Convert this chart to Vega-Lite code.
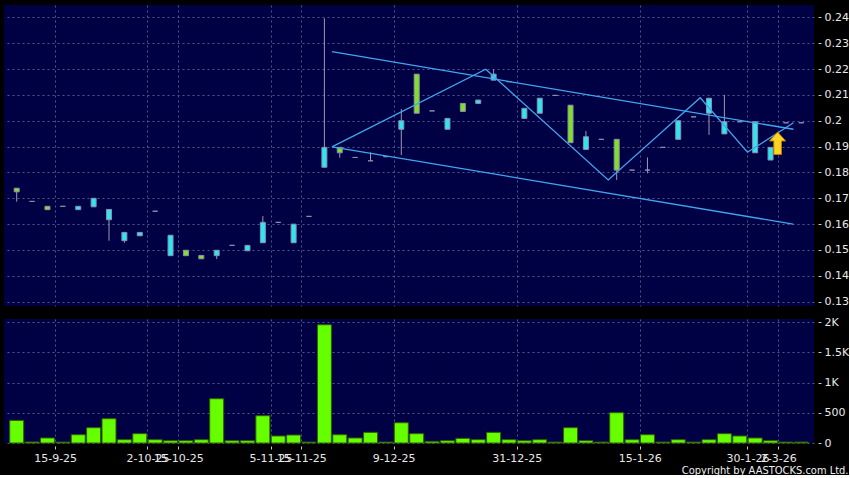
{
  "$schema": "https://vega.github.io/schema/vega-lite/v6.json",
  "background": "#000000",
  "padding": {"left": 4, "top": 5, "right": 0, "bottom": 0},
  "spacing": 9,
  "config": {
    "view": {"fill": "#000044", "stroke": null},
    "axis": {
      "gridColor": "#55558c", "gridDash": [2, 3], "gridWidth": 1, "gridOpacity": 1,
      "labelColor": "#e8e8e8", "labelFont": "DejaVu Sans", "labelFontSize": 11,
      "tickColor": "#c8c8c8", "domain": false
    }
  },
  "datasets": {
    "candles": [
      {"i": 0, "o": 0.1739, "c": 0.1725, "h": 0.1739, "l": 0.1687, "vol": 374},
      {"i": 1, "o": 0.1688, "c": 0.1688, "h": 0.1688, "l": 0.1688, "vol": 17},
      {"i": 2, "o": 0.1669, "c": 0.1656, "h": 0.1669, "l": 0.1656, "vol": 83},
      {"i": 3, "o": 0.1669, "c": 0.1669, "h": 0.1669, "l": 0.1669, "vol": 15},
      {"i": 4, "o": 0.1656, "c": 0.1669, "h": 0.1669, "l": 0.1656, "vol": 137},
      {"i": 5, "o": 0.1667, "c": 0.17, "h": 0.17, "l": 0.1667, "vol": 253},
      {"i": 6, "o": 0.1617, "c": 0.1657, "h": 0.1657, "l": 0.1536, "vol": 402},
      {"i": 7, "o": 0.1536, "c": 0.1568, "h": 0.1568, "l": 0.1528, "vol": 55},
      {"i": 8, "o": 0.1555, "c": 0.1568, "h": 0.1568, "l": 0.1555, "vol": 154},
      {"i": 9, "o": 0.165, "c": 0.165, "h": 0.165, "l": 0.165, "vol": 55},
      {"i": 10, "o": 0.1478, "c": 0.1557, "h": 0.1557, "l": 0.1478, "vol": 38},
      {"i": 11, "o": 0.1499, "c": 0.1478, "h": 0.1499, "l": 0.1478, "vol": 38},
      {"i": 12, "o": 0.1479, "c": 0.1466, "h": 0.1479, "l": 0.1466, "vol": 55},
      {"i": 13, "o": 0.1478, "c": 0.1499, "h": 0.1499, "l": 0.1465, "vol": 732},
      {"i": 14, "o": 0.1518, "c": 0.1518, "h": 0.1518, "l": 0.1518, "vol": 38},
      {"i": 15, "o": 0.1497, "c": 0.1518, "h": 0.1518, "l": 0.1497, "vol": 38},
      {"i": 16, "o": 0.1528, "c": 0.1607, "h": 0.1631, "l": 0.1528, "vol": 451},
      {"i": 17, "o": 0.1607, "c": 0.1607, "h": 0.1607, "l": 0.1607, "vol": 116},
      {"i": 18, "o": 0.1528, "c": 0.16, "h": 0.16, "l": 0.1528, "vol": 132},
      {"i": 19, "o": 0.163, "c": 0.163, "h": 0.163, "l": 0.163, "vol": 15},
      {"i": 20, "o": 0.182, "c": 0.1897, "h": 0.2396, "l": 0.182, "vol": 1955},
      {"i": 21, "o": 0.1897, "c": 0.1876, "h": 0.1897, "l": 0.1857, "vol": 137},
      {"i": 22, "o": 0.1858, "c": 0.1858, "h": 0.1858, "l": 0.1858, "vol": 83},
      {"i": 23, "o": 0.1845, "c": 0.1845, "h": 0.1878, "l": 0.1845, "vol": 176},
      {"i": 24, "o": 0.1861, "c": 0.1861, "h": 0.1861, "l": 0.1861, "vol": 15},
      {"i": 25, "o": 0.1967, "c": 0.2, "h": 0.2045, "l": 0.1867, "vol": 335},
      {"i": 26, "o": 0.218, "c": 0.2029, "h": 0.218, "l": 0.2029, "vol": 154},
      {"i": 27, "o": 0.2038, "c": 0.2038, "h": 0.2038, "l": 0.2038, "vol": 27},
      {"i": 28, "o": 0.1967, "c": 0.2009, "h": 0.2009, "l": 0.1967, "vol": 38},
      {"i": 29, "o": 0.2067, "c": 0.2036, "h": 0.2067, "l": 0.2036, "vol": 77},
      {"i": 30, "o": 0.2067, "c": 0.208, "h": 0.208, "l": 0.2067, "vol": 55},
      {"i": 31, "o": 0.2157, "c": 0.218, "h": 0.2199, "l": 0.2157, "vol": 176},
      {"i": 32, "o": 0.2151, "c": 0.2151, "h": 0.2151, "l": 0.2151, "vol": 55},
      {"i": 33, "o": 0.2009, "c": 0.2048, "h": 0.2048, "l": 0.2009, "vol": 38},
      {"i": 34, "o": 0.2029, "c": 0.2087, "h": 0.2087, "l": 0.2029, "vol": 55},
      {"i": 35, "o": 0.2098, "c": 0.2098, "h": 0.2098, "l": 0.2098, "vol": 15},
      {"i": 36, "o": 0.206, "c": 0.1915, "h": 0.206, "l": 0.1915, "vol": 253},
      {"i": 37, "o": 0.1889, "c": 0.1938, "h": 0.196, "l": 0.1889, "vol": 38},
      {"i": 38, "o": 0.1928, "c": 0.1928, "h": 0.1928, "l": 0.1928, "vol": 15},
      {"i": 39, "o": 0.1928, "c": 0.1809, "h": 0.1928, "l": 0.1771, "vol": 501},
      {"i": 40, "o": 0.1809, "c": 0.1809, "h": 0.1809, "l": 0.1809, "vol": 55},
      {"i": 41, "o": 0.1809, "c": 0.1809, "h": 0.1858, "l": 0.1797, "vol": 137},
      {"i": 42, "o": 0.1897, "c": 0.1897, "h": 0.1897, "l": 0.1897, "vol": 15},
      {"i": 43, "o": 0.1928, "c": 0.2, "h": 0.2, "l": 0.1928, "vol": 55},
      {"i": 44, "o": 0.2015, "c": 0.2015, "h": 0.2015, "l": 0.2015, "vol": 15},
      {"i": 45, "o": 0.2029, "c": 0.2087, "h": 0.2087, "l": 0.1945, "vol": 55},
      {"i": 46, "o": 0.1949, "c": 0.1996, "h": 0.21, "l": 0.1949, "vol": 154},
      {"i": 47, "o": 0.1996, "c": 0.1996, "h": 0.1996, "l": 0.1996, "vol": 116},
      {"i": 48, "o": 0.1876, "c": 0.1996, "h": 0.1996, "l": 0.1876, "vol": 83},
      {"i": 49, "o": 0.1848, "c": 0.1897, "h": 0.1897, "l": 0.1848, "vol": 38},
      {"i": 50, "o": 0.1992, "c": 0.1992, "h": 0.1992, "l": 0.1992, "vol": 15},
      {"i": 51, "o": 0.1992, "c": 0.1992, "h": 0.1992, "l": 0.1992, "vol": 15}
    ],
    "lines": [
      {"g": "upper", "i": 20.49, "v": 0.2267},
      {"g": "upper", "i": 50.49, "v": 0.1967},
      {"g": "lower", "i": 20.49, "v": 0.1899},
      {"g": "lower", "i": 50.47, "v": 0.16},
      {"g": "zigzag", "i": 20.49, "v": 0.1899},
      {"g": "zigzag", "i": 30.49, "v": 0.2199},
      {"g": "zigzag", "i": 38.45, "v": 0.1771},
      {"g": "zigzag", "i": 44.43, "v": 0.2089},
      {"g": "zigzag", "i": 47.5, "v": 0.1878},
      {"g": "zigzag", "i": 50.49, "v": 0.1992}
    ],
    "arrow": [{"i": 49.46, "v": 0.1913}]
  },
  "vconcat": [
    {
      "width": 810,
      "height": 301,
      "encoding": {
        "x": {
          "type": "quantitative",
          "scale": {"domain": [-0.5, 51.5], "nice": false, "zero": false},
          "axis": {
            "values": [2.5, 8.5, 10.5, 16.5, 18.5, 24.5, 32.5, 40.5, 47.5, 49.5],
            "grid": true, "labels": false, "ticks": false, "title": null
          }
        },
        "y": {
          "type": "quantitative",
          "scale": {"domain": [0.12834, 0.24476], "nice": false, "zero": false},
          "axis": {
            "orient": "right",
            "values": [0.13, 0.14, 0.15, 0.16, 0.17, 0.18, 0.19, 0.2, 0.21, 0.22, 0.23, 0.24],
            "format": ".2~f",
            "grid": true, "offset": 4, "tickSize": 3, "labelPadding": 3,
            "title": null, "labelFlush": false, "labelOverlap": false
          }
        }
      },
      "layer": [
        {
          "data": {"name": "candles"},
          "mark": {"type": "rule", "color": "#9a9ab8", "strokeWidth": 1},
          "encoding": {
            "x": {"field": "i"},
            "y": {"field": "l"},
            "y2": {"field": "h"}
          }
        },
        {
          "data": {"name": "candles"},
          "mark": {"type": "bar", "width": 5, "stroke": "#8e8eac", "strokeWidth": 1},
          "encoding": {
            "x": {"field": "i"},
            "y": {"field": "o"},
            "y2": {"field": "c"},
            "fill": {
              "condition": [
                {"test": "datum.c > datum.o", "value": "#2ee6f2"},
                {"test": "datum.c < datum.o", "value": "#80e028"}
              ],
              "value": "#9a9ab8"
            }
          }
        },
        {
          "data": {"name": "lines"},
          "mark": {"type": "line", "color": "#42a6ee", "strokeWidth": 1.3},
          "encoding": {
            "x": {"field": "i"},
            "y": {"field": "v"},
            "detail": {"field": "g"}
          }
        },
        {
          "data": {"name": "arrow"},
          "mark": {
            "type": "point",
            "shape": "M0,-1L0.72,-0.2L0.34,-0.2L0.34,1L-0.34,1L-0.34,-0.2L-0.72,-0.2Z",
            "size": 500,
            "filled": true,
            "fill": "#ffd424",
            "stroke": "#c08000",
            "strokeWidth": 1,
            "opacity": 1
          },
          "encoding": {
            "x": {"field": "i"},
            "y": {"field": "v"}
          }
        }
      ]
    },
    {
      "width": 810,
      "height": 124,
      "data": {"name": "candles"},
      "mark": {"type": "bar", "width": 14, "fill": "#66ff00", "stroke": "#2f5f00", "strokeWidth": 1},
      "encoding": {
        "x": {
          "field": "i",
          "type": "quantitative",
          "scale": {"domain": [-0.5, 51.5], "nice": false, "zero": false},
          "axis": {
            "values": [2.5, 8.5, 10.5, 16.5, 18.5, 24.5, 32.5, 40.5, 47.5, 49.5],
            "labelExpr": "datum.value == 2.5 ? '15-9-25' : datum.value == 8.5 ? '2-10-25' : datum.value == 10.5 ? '15-10-25' : datum.value == 16.5 ? '5-11-25' : datum.value == 18.5 ? '15-11-25' : datum.value == 24.5 ? '9-12-25' : datum.value == 32.5 ? '31-12-25' : datum.value == 40.5 ? '15-1-26' : datum.value == 47.5 ? '30-1-26' : '2-3-26'",
            "grid": true, "offset": 3, "tickSize": 3, "labelPadding": 3,
            "labelOverlap": false, "labelFlush": false, "labelBound": false,
            "title": "Copyright by AASTOCKS.com Ltd.",
            "titleFont": "DejaVu Sans Condensed, DejaVu Sans",
            "titleFontSize": 11,
            "titleFontWeight": "normal",
            "titleColor": "#f0f0f0",
            "titleAnchor": "end",
            "titleAlign": "right",
            "titleBaseline": "middle",
            "titleX": 844,
            "titleY": 24
          }
        },
        "y": {
          "field": "vol",
          "type": "quantitative",
          "scale": {"domain": [0, 2050], "nice": false},
          "axis": {
            "orient": "right",
            "values": [0, 500, 1000, 1500, 2000],
            "labelExpr": "datum.value >= 1000 ? format(datum.value / 1000, '~g') + 'K' : format(datum.value, 'd')",
            "grid": true, "offset": 4, "tickSize": 3, "labelPadding": 3,
            "title": null, "labelFlush": false, "labelOverlap": false
          }
        }
      }
    }
  ]
}
